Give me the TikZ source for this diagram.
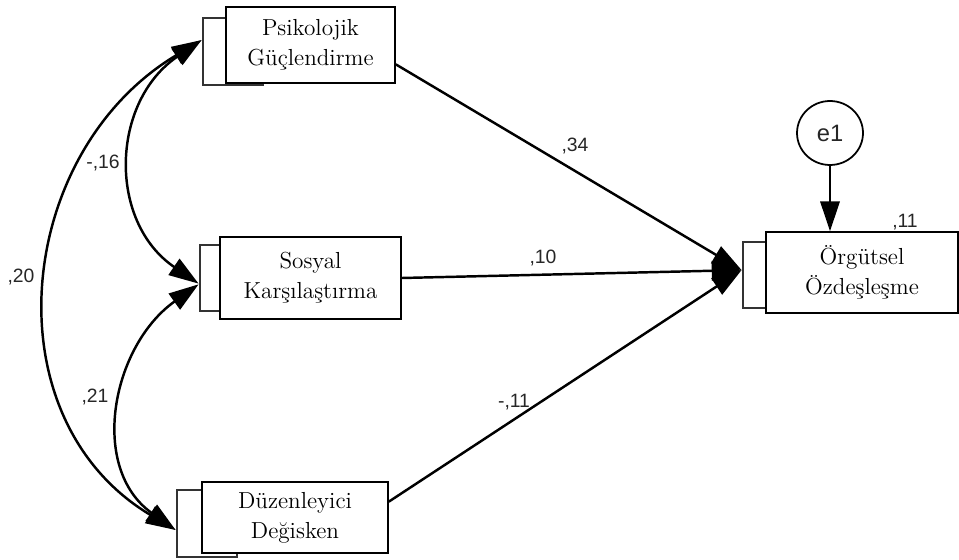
\documentclass[tikz,border=0pt]{standalone}
\usepackage{fontspec}
\newfontfamily\labfont{Liberation Sans}
\usetikzlibrary{arrows.meta,shapes.geometric,calc}
\begin{document}
\begin{tikzpicture}[x=0.02cm,y=-0.02cm,
  box/.style={draw, line width=0.9pt, fill=white, align=center, inner sep=0pt,
    font=\fontsize{13.2}{17}\selectfont},
  backbox/.style={draw=black!80, line width=1.6pt, fill=white, inner sep=0pt,
    minimum width=1.2cm},
  lab/.style={font=\labfont\fontsize{11}{13}\selectfont, text=black!85, inner sep=0pt},
  pathline/.style={line width=1.4pt, -{Triangle[length=17pt,width=11pt]}},
  cov/.style={line width=1.4pt, {Triangle[length=17pt,width=11pt]}-{Triangle[length=17pt,width=11pt]}},
]
\useasboundingbox (0,0) rectangle (959,560);

% label partly hidden under the outcome box
\node[lab] (r11) at (905,222) {,11};

% back rectangles
\node[backbox, minimum height=1.34cm] (pgb) at (233,51.5) {};
\node[backbox, minimum height=1.32cm] (skb) at (230,278) {};
\node[backbox, minimum height=1.34cm] (ddb) at (207,523.5) {};
\node[backbox, minimum height=1.32cm] (oob) at (773,275) {};

% front boxes
\node[box, minimum width=3.38cm, minimum height=1.52cm] (pg) at (310.5,45) {Psikolojik\\Güçlendirme};
\node[box, minimum width=3.62cm, minimum height=1.64cm] (sk) at (310.5,278) {Sosyal\\Karşılaştırma};
\node[box, minimum width=3.72cm, minimum height=1.42cm] (dd) at (295,517.5) {Düzenleyici\\Değisken};
\node[box, minimum width=3.84cm, minimum height=1.62cm] (oo) at (862,272.5) {Örgütsel\\Özdeşleşme};

% error term
\node[ellipse, draw, line width=1pt, minimum width=1.32cm, minimum height=1.28cm, inner sep=0pt,
  font=\labfont\fontsize{13.5}{15}\selectfont, text=black!85] (e1) at (830,133) {e1};

% regression paths
\draw[pathline] ([yshift=-11pt]pg.east) -- ([yshift=2.8pt]oob.west);
\draw[pathline] (sk.east) -- ([yshift=2.8pt]oob.west);
\draw[pathline] ([yshift=9pt]dd.east) -- ([yshift=2.8pt]oob.west);
\draw[pathline] (e1.south) -- (e1.south |- oo.north);

% covariances
\draw[cov] ([yshift=6.5pt]pgb.west) .. controls +(-91,62) and +(-91,-62) .. ([yshift=-3.2pt]skb.west);
\draw[cov] ([yshift=-3.6pt]skb.west) .. controls +(-87,62) and +(-87,-62) .. ([yshift=-3.7pt]ddb.west);
\draw[cov] ([yshift=6.5pt]pgb.west) .. controls +(-187,112) and +(-187,-112) .. ([yshift=-3.7pt]ddb.west);

% coefficient labels
\node[lab] (l34) at (575,146) {,34};
\node[lab] (l10) at (543,258) {,10};
\node[lab] (l11) at (514,402) {-,11};
\node[lab] (l16) at (103,163) {-,16};
\node[lab] (l20) at (21,277) {,20};
\node[lab] (l21) at (95,397) {,21};
\end{tikzpicture}
\end{document}
